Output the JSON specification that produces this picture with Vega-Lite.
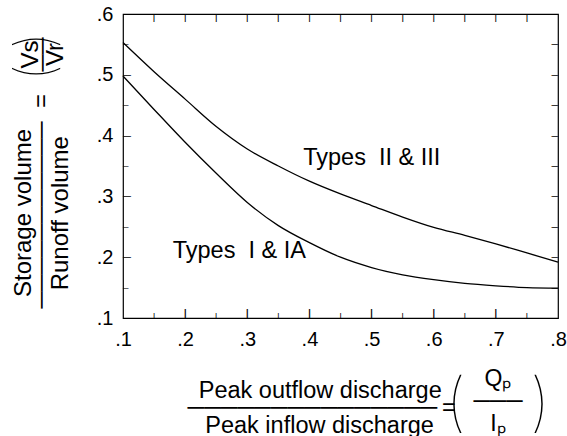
{
  "$schema": "https://vega.github.io/schema/vega-lite/v6.json",
  "width": 435,
  "height": 304,
  "autosize": {"type": "none"},
  "padding": {"left": 123, "top": 14, "right": 9, "bottom": 118},
  "background": "white",
  "config": {
    "view": {"stroke": "black", "strokeWidth": 1.2},
    "axis": {
      "domain": false,
      "grid": false,
      "ticks": false,
      "labelFont": "Liberation Sans",
      "labelFontSize": 20,
      "labelColor": "black",
      "titleFont": "Liberation Sans",
      "titleFontSize": 24,
      "titleFontWeight": "normal",
      "titleColor": "black"
    }
  },
  "datasets": {
    "curves": [
      {"series": "Types II & III", "x": 0.10, "y": 0.553},
      {"series": "Types II & III", "x": 0.15, "y": 0.505},
      {"series": "Types II & III", "x": 0.20, "y": 0.460},
      {"series": "Types II & III", "x": 0.25, "y": 0.415},
      {"series": "Types II & III", "x": 0.30, "y": 0.378},
      {"series": "Types II & III", "x": 0.35, "y": 0.350},
      {"series": "Types II & III", "x": 0.40, "y": 0.325},
      {"series": "Types II & III", "x": 0.45, "y": 0.304},
      {"series": "Types II & III", "x": 0.50, "y": 0.285},
      {"series": "Types II & III", "x": 0.55, "y": 0.266},
      {"series": "Types II & III", "x": 0.60, "y": 0.249},
      {"series": "Types II & III", "x": 0.65, "y": 0.236},
      {"series": "Types II & III", "x": 0.70, "y": 0.222},
      {"series": "Types II & III", "x": 0.75, "y": 0.207},
      {"series": "Types II & III", "x": 0.80, "y": 0.192},
      {"series": "Types I & IA", "x": 0.10, "y": 0.498},
      {"series": "Types I & IA", "x": 0.15, "y": 0.443},
      {"series": "Types I & IA", "x": 0.20, "y": 0.389},
      {"series": "Types I & IA", "x": 0.25, "y": 0.338},
      {"series": "Types I & IA", "x": 0.30, "y": 0.290},
      {"series": "Types I & IA", "x": 0.35, "y": 0.252},
      {"series": "Types I & IA", "x": 0.40, "y": 0.224},
      {"series": "Types I & IA", "x": 0.45, "y": 0.200},
      {"series": "Types I & IA", "x": 0.50, "y": 0.183},
      {"series": "Types I & IA", "x": 0.55, "y": 0.171},
      {"series": "Types I & IA", "x": 0.60, "y": 0.163},
      {"series": "Types I & IA", "x": 0.65, "y": 0.157},
      {"series": "Types I & IA", "x": 0.70, "y": 0.153},
      {"series": "Types I & IA", "x": 0.75, "y": 0.150},
      {"series": "Types I & IA", "x": 0.80, "y": 0.149}
    ],
    "labels": [
      {"text": "Types\u00A0 II & III", "x": 0.39, "y": 0.363},
      {"text": "Types\u00A0 I & IA", "x": 0.18, "y": 0.21}
    ],
    "xMajor": [{"x": 0.2}, {"x": 0.3}, {"x": 0.4}, {"x": 0.5}, {"x": 0.6}, {"x": 0.7}],
    "xMinor": [{"x": 0.15}, {"x": 0.25}, {"x": 0.35}, {"x": 0.45}, {"x": 0.55}, {"x": 0.65}, {"x": 0.75}],
    "xTop": [{"x": 0.15}, {"x": 0.2}, {"x": 0.25}, {"x": 0.3}, {"x": 0.35}, {"x": 0.4}, {"x": 0.45}, {"x": 0.5}, {"x": 0.55}, {"x": 0.6}, {"x": 0.65}, {"x": 0.7}, {"x": 0.75}],
    "yMajor": [{"y": 0.2}, {"y": 0.3}, {"y": 0.4}, {"y": 0.5}],
    "yMinor": [{"y": 0.15}, {"y": 0.25}, {"y": 0.35}, {"y": 0.45}, {"y": 0.55}],
    "yRight": [{"y": 0.15}, {"y": 0.2}, {"y": 0.25}, {"y": 0.3}, {"y": 0.35}, {"y": 0.4}, {"y": 0.45}, {"y": 0.5}, {"y": 0.55}]
  },
  "layer": [
    {
      "data": {"name": "curves"},
      "mark": {"type": "line", "color": "black", "strokeWidth": 1.3, "interpolate": "monotone"},
      "encoding": {
        "x": {
          "field": "x", "type": "quantitative",
          "scale": {"domain": [0.1, 0.8], "nice": false, "zero": false},
          "axis": {
            "orient": "bottom",
            "values": [0.1, 0.2, 0.3, 0.4, 0.5, 0.6, 0.7, 0.8],
            "labelPadding": 11,
            "labelExpr": "replace(format(datum.value, '.1f'), '0.', '.')",
            "labelFlush": false,
            "title": ["\u200B\u00A0\u2009Peak outflow discharge", "\u2500\u2500\u2500\u2500\u2500\u2500\u2500\u2500\u2500\u2500\u2500\u2500\u2500\u2500\u2500\u2009=", "\u200B\u00A0\u00A0\u2009Peak inflow discharge"],
            "titleFontSize": 23.5,
            "titleAlign": "left",
            "titleBaseline": "alphabetic",
            "titleAnchor": "start",
            "titleX": 64,
            "titleY": 79,
            "titleLineHeight": 17.5
          }
        },
        "y": {
          "field": "y", "type": "quantitative",
          "scale": {"domain": [0.1, 0.6], "nice": false, "zero": false},
          "axis": {
            "orient": "left",
            "values": [0.1, 0.2, 0.3, 0.4, 0.5, 0.6],
            "labelPadding": 10,
            "labelExpr": "replace(format(datum.value, '.1f'), '0.', '.')",
            "labelFlush": false,
            "title": ["\u200B\u00A0\u2009Storage volume", "\u2500\u2500\u2500\u2500\u2500\u2500\u2500\u2500\u2500\u2500\u2500\u00A0\u00A0=", "\u200B\u00A0\u00A0\u2009Runoff volume"],
            "titleAngle": -90,
            "titleAlign": "left",
            "titleBaseline": "alphabetic",
            "titleAnchor": "start",
            "titleX": -93,
            "titleY": 294,
            "titleLineHeight": 18.5
          }
        },
        "detail": {"field": "series"}
      }
    },
    {
      "data": {"name": "labels"},
      "mark": {"type": "text", "font": "Liberation Sans", "fontSize": 23.5, "align": "left", "baseline": "middle", "color": "black"},
      "encoding": {
        "x": {
          "field": "x", "type": "quantitative",
          "axis": {
            "orient": "bottom",
            "labels": false,
            "values": [0.1],
            "title": "(\u2003)",
            "titleFont": "Inter",
            "titleFontWeight": 100,
            "titleFontSize": 64,
            "titleAlign": "center",
            "titleBaseline": "alphabetic",
            "titleAnchor": "start",
            "titleX": 374.5,
            "titleY": 105
          }
        },
        "y": {
          "field": "y", "type": "quantitative",
          "axis": {
            "orient": "left",
            "labels": false,
            "values": [0.1],
            "title": "( )",
            "titleFont": "Inter",
            "titleFontWeight": 100,
            "titleFontSize": 53,
            "titleAngle": -90,
            "titleAlign": "center",
            "titleBaseline": "alphabetic",
            "titleAnchor": "start",
            "titleX": -71,
            "titleY": 42
          }
        },
        "text": {"field": "text"}
      }
    },
    {
      "data": {"name": "curves"},
      "mark": {"type": "line", "strokeOpacity": 0},
      "encoding": {
        "x": {
          "field": "x", "type": "quantitative",
          "axis": {
            "orient": "top",
            "labels": false,
            "values": [0.1],
            "title": ["Q\u209A", "\u2500\u2500\u2500", "I\u209A"],
            "titleFontSize": 23,
            "titleAlign": "center",
            "titleBaseline": "alphabetic",
            "titleAnchor": "start",
            "titleX": 374.5,
            "titleY": 371,
            "titleLineHeight": 22.5
          }
        },
        "y": {
          "field": "y", "type": "quantitative",
          "axis": {
            "orient": "right",
            "labels": false,
            "values": [0.1],
            "title": ["Vs", "\u2500\u2500", "Vr"],
            "titleAngle": -90,
            "titleAlign": "center",
            "titleBaseline": "alphabetic",
            "titleAnchor": "start",
            "titleX": -521,
            "titleY": 40,
            "titleLineHeight": 12.5
          }
        },
        "detail": {"field": "series"}
      }
    },
    {
      "data": {"name": "xMajor"},
      "mark": {"type": "text", "text": "|", "font": "Liberation Sans", "fontWeight": "bold", "fontSize": 9, "align": "center", "baseline": "bottom", "color": "black"},
      "encoding": {
        "x": {"field": "x", "type": "quantitative", "axis": null},
        "y": {"datum": 0.1, "type": "quantitative", "axis": null}
      }
    },
    {
      "data": {"name": "xMinor"},
      "mark": {"type": "text", "text": "|", "font": "Liberation Sans", "fontWeight": "bold", "fontSize": 6, "align": "center", "baseline": "bottom", "color": "black"},
      "encoding": {
        "x": {"field": "x", "type": "quantitative", "axis": null},
        "y": {"datum": 0.1, "type": "quantitative", "axis": null}
      }
    },
    {
      "data": {"name": "xTop"},
      "mark": {"type": "text", "text": "|", "font": "Liberation Sans", "fontWeight": "bold", "fontSize": 7, "align": "center", "baseline": "top", "color": "black"},
      "encoding": {
        "x": {"field": "x", "type": "quantitative", "axis": null},
        "y": {"datum": 0.6, "type": "quantitative", "axis": null}
      }
    },
    {
      "data": {"name": "yMajor"},
      "mark": {"type": "text", "text": "\u2014", "font": "Liberation Sans", "fontWeight": "bold", "fontSize": 8, "align": "left", "baseline": "middle", "color": "black"},
      "encoding": {
        "y": {"field": "y", "type": "quantitative", "axis": null},
        "x": {"datum": 0.1, "type": "quantitative", "axis": null}
      }
    },
    {
      "data": {"name": "yMinor"},
      "mark": {"type": "text", "text": "\u2014", "font": "Liberation Sans", "fontWeight": "bold", "fontSize": 5.5, "align": "left", "baseline": "middle", "color": "black"},
      "encoding": {
        "y": {"field": "y", "type": "quantitative", "axis": null},
        "x": {"datum": 0.1, "type": "quantitative", "axis": null}
      }
    },
    {
      "data": {"name": "yRight"},
      "mark": {"type": "text", "text": "\u2014", "font": "Liberation Sans", "fontWeight": "bold", "fontSize": 6.5, "align": "right", "baseline": "middle", "color": "black"},
      "encoding": {
        "y": {"field": "y", "type": "quantitative", "axis": null},
        "x": {"datum": 0.8, "type": "quantitative", "axis": null}
      }
    }
  ],
  "resolve": {"axis": {"x": "independent", "y": "independent"}}
}
